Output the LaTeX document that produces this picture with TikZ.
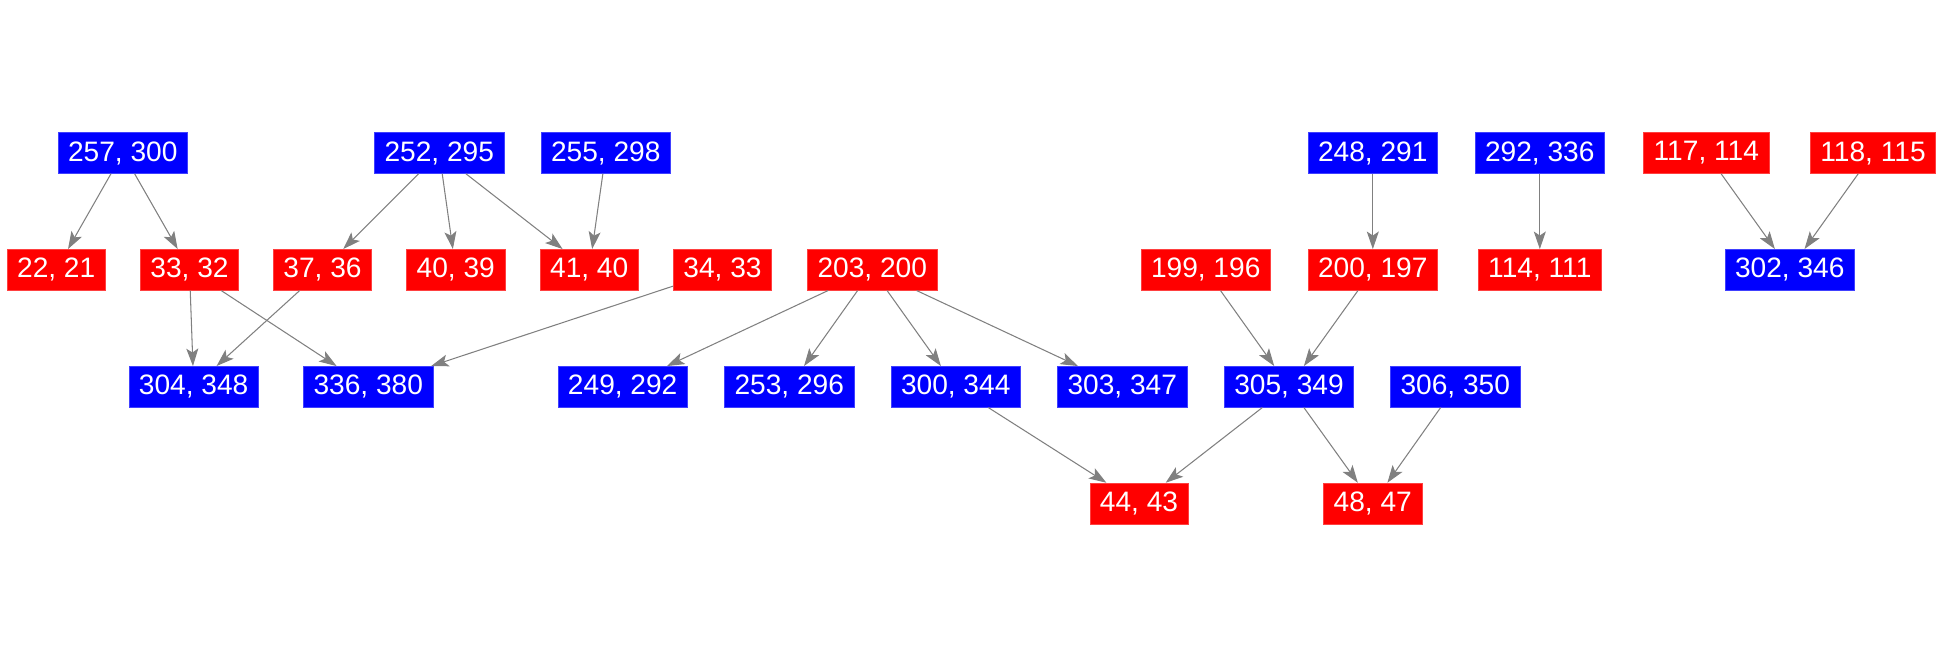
\documentclass[tikz,border=0pt]{standalone}
\usepackage{fontspec}
\setmainfont{Liberation Sans}
\usetikzlibrary{arrows.meta}

\begin{document}
\begin{tikzpicture}[x=0.02cm, y=-0.02cm]

  % Styles for the two kinds of pair boxes and for the links.
  \tikzset{
    pair/.style={rectangle, inner xsep=0.2cm, inner ysep=0pt, minimum height=0.82cm,
      text=white, font=\fontsize{16}{19}\selectfont},
    blue-pair/.style={pair, fill=blue, draw=blue!75!white, line width=0.3pt},
    red-pair/.style={pair, fill=red, draw=red!75!white, line width=0.3pt},
    link/.style={draw=gray, line width=0.6pt,
      -{Stealth[length=0.35cm, width=0.24cm, inset=0.08cm]}}
  }

  \useasboundingbox (0,0) rectangle (1946,656);

  % Top row.
  \node [blue-pair] (p257-300) at (122.8, 153) {257, 300};
  \node [blue-pair] (p252-295) at (439.3, 153) {252, 295};
  \node [blue-pair] (p255-298) at (605.8, 153) {255, 298};
  \node [blue-pair] (p248-291) at (1372.8, 153) {248, 291};
  \node [blue-pair] (p292-336) at (1539.8, 153) {292, 336};
  \node [red-pair] (p117-114) at (1706.3, 153) {117, 114};
  \node [red-pair] (p118-115) at (1873, 153) {118, 115};

  % Second row.
  \node [red-pair] (p22-21) at (56.2, 269.8) {22, 21};
  \node [red-pair] (p33-32) at (189.5, 269.8) {33, 32};
  \node [red-pair] (p37-36) at (322.5, 269.8) {37, 36};
  \node [red-pair] (p40-39) at (455.8, 269.8) {40, 39};
  \node [red-pair] (p41-40) at (589.2, 269.8) {41, 40};
  \node [red-pair] (p34-33) at (722.5, 269.8) {34, 33};
  \node [red-pair] (p203-200) at (872.3, 269.8) {203, 200};
  \node [red-pair] (p199-196) at (1205.7, 269.8) {199, 196};
  \node [red-pair] (p200-197) at (1372.8, 269.8) {200, 197};
  \node [red-pair] (p114-111) at (1539.8, 269.8) {114, 111};
  \node [blue-pair] (p302-346) at (1789.7, 269.8) {302, 346};

  % Third row.
  \node [blue-pair] (p304-348) at (193.7, 386.8) {304, 348};
  \node [blue-pair] (p336-380) at (368.3, 386.8) {336, 380};
  \node [blue-pair] (p249-292) at (622.7, 386.8) {249, 292};
  \node [blue-pair] (p253-296) at (789.3, 386.8) {253, 296};
  \node [blue-pair] (p300-344) at (955.7, 386.8) {300, 344};
  \node [blue-pair] (p303-347) at (1122.3, 386.8) {303, 347};
  \node [blue-pair] (p305-349) at (1289, 386.8) {305, 349};
  \node [blue-pair] (p306-350) at (1455.3, 386.8) {306, 350};

  % Bottom row.
  \node [red-pair] (p44-43) at (1139, 503.5) {44, 43};
  \node [red-pair] (p48-47) at (1372.7, 503.5) {48, 47};

  % Links.
  \draw [link] (p257-300) -- (p22-21);
  \draw [link] (p257-300) -- (p33-32);
  \draw [link] (p252-295) -- (p37-36);
  \draw [link] (p252-295) -- (p40-39);
  \draw [link] (p252-295) -- (p41-40);
  \draw [link] (p255-298) -- (p41-40);
  \draw [link] (p33-32) -- (p304-348);
  \draw [link] (p33-32) -- (p336-380);
  \draw [link] (p37-36) -- (p304-348);
  \draw [link] (p34-33) -- (p336-380);
  \draw [link] (p203-200) -- (p249-292);
  \draw [link] (p203-200) -- (p253-296);
  \draw [link] (p203-200) -- (p300-344);
  \draw [link] (p203-200) -- (p303-347);
  \draw [link] (p199-196) -- (p305-349);
  \draw [link] (p200-197) -- (p305-349);
  \draw [link] (p248-291) -- (p200-197);
  \draw [link] (p292-336) -- (p114-111);
  \draw [link] (p117-114) -- (p302-346);
  \draw [link] (p118-115) -- (p302-346);
  \draw [link] (p300-344) -- (p44-43);
  \draw [link] (p305-349) -- (p44-43);
  \draw [link] (p305-349) -- (p48-47);
  \draw [link] (p306-350) -- (p48-47);

\end{tikzpicture}
\end{document}
